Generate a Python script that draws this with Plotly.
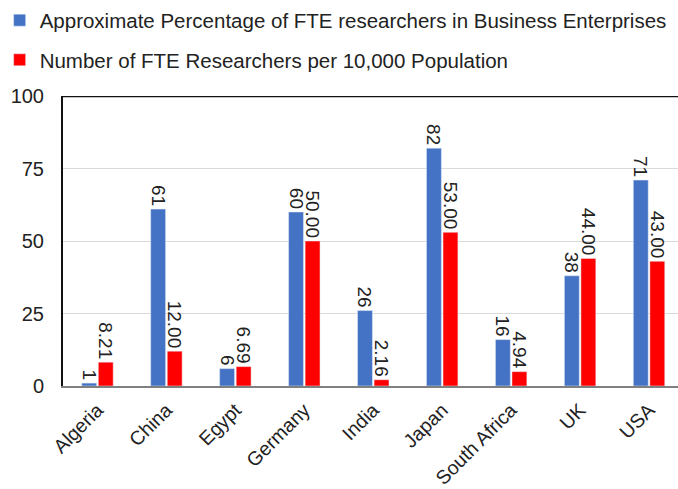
import plotly.graph_objects as go

categories = ["Algeria", "China", "Egypt", "Germany", "India", "Japan", "South Africa", "UK", "USA"]
pct_business = [1, 61, 6, 60, 26, 82, 16, 38, 71]
per_10000 = [8.21, 12.00, 6.69, 50.00, 2.16, 53.00, 4.94, 44.00, 43.00]
y_ticks = [0, 25, 50, 75, 100]

FONT = "Liberation Sans, Arial, sans-serif"

fig = go.Figure()
fig.add_trace(go.Bar(
    x=categories, y=pct_business,
    name="Approximate Percentage of FTE researchers in Business Enterprises",
    marker_color="#4472C4", legendgroup="a",
    texttemplate="%{y:.0f}", textposition="outside",
    textangle=90, textfont=dict(size=19, color="#222", family=FONT),
    constraintext="none", cliponaxis=False,
))
fig.add_trace(go.Bar(
    x=categories, y=per_10000,
    name="Number of FTE Researchers per 10,000 Population",
    marker_color="#FF0000", legendgroup="b",
    texttemplate="%{y:.2f}", textposition="outside",
    textangle=90, textfont=dict(size=19, color="#222", family=FONT),
    constraintext="none", cliponaxis=False,
))

fig.update_layout(
    width=678, height=489,
    margin=dict(l=63, r=0, t=96, b=103, autoexpand=False),
    paper_bgcolor="white", plot_bgcolor="white",
    font=dict(family=FONT, size=19, color="#222"),
    barmode="group", bargap=0.52, bargroupgap=0.1,
    showlegend=True,
    legend=dict(
        x=-0.103, y=1.33, xanchor="left", yanchor="top",
        orientation="v", traceorder="grouped", tracegroupgap=10,
        font=dict(size=20.5, color="#222", family=FONT),
        itemwidth=30, bgcolor="rgba(0,0,0,0)",
    ),
    xaxis=dict(
        range=[-0.5, 8.42], tickangle=-45,
        showline=True, linecolor="#808080", linewidth=2,
        showgrid=False, ticks="", ticklabelstandoff=3,
        tickfont=dict(size=19.5, color="#222", family=FONT),
    ),
    yaxis=dict(
        range=[0, 100], tickvals=y_ticks,
        showline=True, linecolor="#111", linewidth=2,
        showgrid=True, gridcolor="#DADADA", gridwidth=1,
        zeroline=False, ticks="", ticklen=0, ticklabelstandoff=13,
        tickfont=dict(size=20, color="#222", family=FONT),
    ),
    shapes=[dict(type="line", xref="paper", yref="y", x0=0, x1=1, y0=100, y1=100,
                 line=dict(color="#111", width=2.5))],
)

fig.write_html("out.html", config={"displayModeBar": False},
               post_script="document.body.style.margin='0';")
